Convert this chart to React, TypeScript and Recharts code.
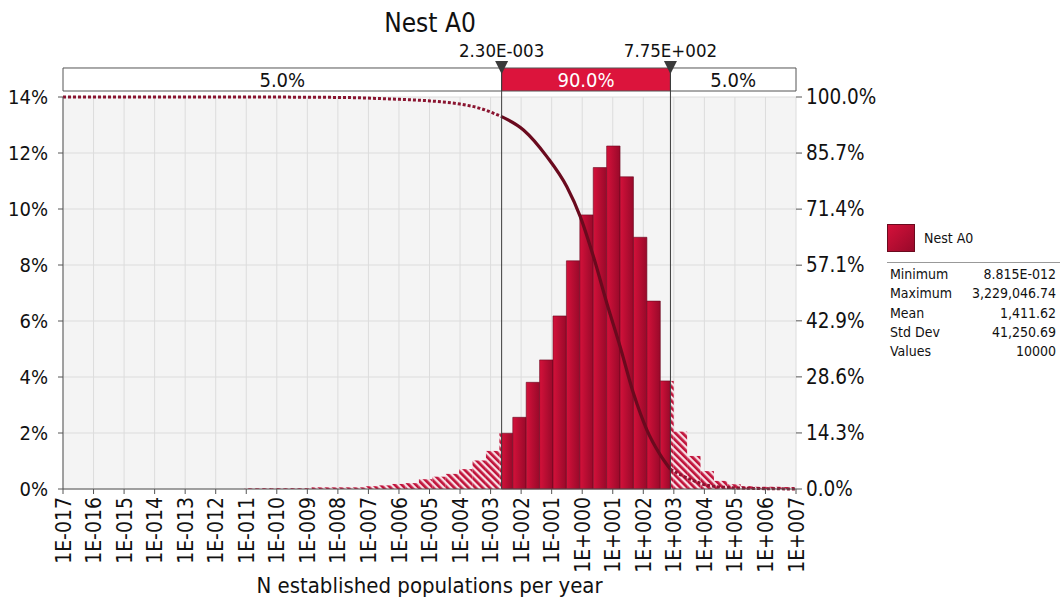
import {
  ComposedChart,
  XAxis,
  YAxis,
  CartesianGrid,
  Line,
  ReferenceArea,
  ReferenceLine,
  ReferenceDot,
} from "recharts"

// histogram bins, in log10 of the value
const binEdges = [
  -11.055, -10.616, -10.177, -9.738, -9.299, -8.86, -8.421, -7.981, -7.542, -7.103,
  -6.664, -6.225, -5.786, -5.347, -4.908, -4.469, -4.03, -3.591, -3.152, -2.713,
  -2.273, -1.834, -1.395, -0.956, -0.517, -0.078, 0.361, 0.8, 1.239, 1.678,
  2.118, 2.557, 2.996, 3.435, 3.874, 4.313, 4.752, 5.191, 5.63, 6.069,
  6.508, 6.947,
]
const binPct = [
  0.03, 0.03, 0.03, 0.03, 0.03, 0.06, 0.06, 0.06, 0.06, 0.1,
  0.13, 0.18, 0.21, 0.35, 0.44, 0.54, 0.71, 1.02, 1.36, 1.99,
  2.56, 3.81, 4.61, 6.18, 8.15, 9.79, 11.48, 12.25, 11.15, 8.99,
  6.71, 3.86, 2.05, 1.18, 0.64, 0.29, 0.17, 0.1, 0.08, 0.08,
  0.07,
]

// descending cumulative curve (percent of values above x)
const curveLog = [
  -17, -11, -9.2, -7.6, -6.6, -5.96, -4.98, -4.0, -3.34, -2.638,
  -1.923, -1.157, -0.503, -0.064, 0.368, 0.807, 1.243, 1.678, 2.116, 2.556,
  2.889, 3.533, 4.187, 5.17, 7,
]
const curvePct = [
  100, 100, 99.95, 99.85, 99.6, 99.4, 99.0, 98.2, 97.1, 95.0,
  91.6, 84.8, 77.1, 69.5, 59.3, 47.4, 36.3, 24.4, 15.1, 8.7,
  5.0, 2.5, 0.8, 0.25, 0,
]

const xTicks = [
  -17, -16, -15, -14, -13, -12, -11, -10, -9, -8, -7, -6, -5, -4, -3, -2, -1,
  0, 1, 2, 3, 4, 5, 6, 7,
]
const pctTicks = [0, 2, 4, 6, 8, 10, 12, 14]
const cumTicks = [0, 14.3, 28.6, 42.9, 57.1, 71.4, 85.7, 100]

const markerLog = [-2.638, 2.889]
const markerLabels = ["2.30E-003", "7.75E+002"]
const bandLabels = ["5.0%", "90.0%", "5.0%"]

const statNames = ["Minimum", "Maximum", "Mean", "Std Dev", "Values"]
const statValues = ["8.815E-012", "3,229,046.74", "1,411.62", "41,250.69", "10000"]

const FONT = "'DejaVu Sans Condensed', Tahoma, 'DejaVu Sans', sans-serif"
const BAND_BOTTOM = 14.214
const BAND_TOP = 15.036

const LO = markerLog[0]
const HI = markerLog[1]

const rows = curveLog.map((x, i) => ({
  x,
  base: 0,
  lo: x <= LO ? curvePct[i] : null,
  mid: x >= LO && x <= HI ? curvePct[i] : null,
  hi: x >= HI ? curvePct[i] : null,
}))

type Seg = { x1: number; x2: number; pct: number; tail: boolean }
const segments: Seg[] = []
binPct.forEach((pct, i) => {
  const a = binEdges[i]
  const b = binEdges[i + 1]
  const cuts = [a, ...markerLog.filter((m) => m > a && m < b), b]
  for (let j = 0; j < cuts.length - 1; j++) {
    const c = (cuts[j] + cuts[j + 1]) / 2
    segments.push({ x1: cuts[j], x2: cuts[j + 1], pct, tail: c < LO || c > HI })
  }
})

const fmtExp = (v: number) =>
  v < 0 ? `1E-${String(-v).padStart(3, "0")}` : `1E+${String(v).padStart(3, "0")}`

const XTick = ({ x, y, payload }: any) => (
  <text
    x={x}
    y={y}
    transform={`rotate(-90 ${x} ${y})`}
    textAnchor="end"
    dy="0.36em"
    fontSize={21}
    fill="#111"
  >
    {fmtExp(payload.value)}
  </text>
)

const Marker = (label: string) => (props: any) => {
  const { cx, cy } = props
  return (
    <g>
      <path
        d={`M${cx - 6.5},${cy - 7} L${cx + 6.5},${cy - 7} L${cx},${cy + 6} Z`}
        fill="#3a3a3a"
      />
      <text x={cx} y={cy - 11} textAnchor="middle" fontSize={18.5} fill="#111">
        {label}
      </text>
    </g>
  )
}

export default function App() {
  const bandX = [-17, LO, HI, 7]
  return (
    <div style={{ position: "relative", width: 1061, height: 603, fontFamily: FONT, background: "#fff" }}>
      <style>{"body{margin:0}"}</style>

      <div
        style={{
          position: "absolute",
          top: 3,
          left: 0,
          width: 860,
          textAlign: "center",
          fontSize: 26,
          lineHeight: "40px",
          color: "#111",
        }}
      >
        Nest A0
      </div>

      <ComposedChart
        width={1061}
        height={603}
        data={rows}
        margin={{ top: 97, right: 185, bottom: 34, left: 8 }}
      >
        <defs>
          <linearGradient id="barFill" x1="0" y1="0" x2="1" y2="0">
            <stop offset="0%" stopColor="#d4113a" />
            <stop offset="100%" stopColor="#98092a" />
          </linearGradient>
          <pattern
            id="hatch"
            width="5"
            height="5"
            patternUnits="userSpaceOnUse"
            patternTransform="rotate(-45)"
          >
            <rect width="5" height="5" fill="#f8dfe5" />
            <rect width="2.7" height="5" fill="#c0123a" />
          </pattern>
        </defs>

        <CartesianGrid
          yAxisId="pct"
          stroke="#dcdcdc"
          fill="#f4f4f4"
          fillOpacity={1}
        />

        <XAxis
          dataKey="x"
          type="number"
          domain={[-17, 7]}
          ticks={xTicks}
          interval={0}
          allowDataOverflow
          height={80}
          tickSize={5}
          tickMargin={3}
          axisLine={{ stroke: "#555" }}
          tickLine={{ stroke: "#555" }}
          tick={<XTick />}
          label={{
            value: "N established populations per year",
            position: "bottom",
            offset: 8,
            fontSize: 22,
            fill: "#111",
          }}
        />
        <YAxis
          yAxisId="pct"
          domain={[0, 14]}
          ticks={pctTicks}
          allowDataOverflow
          width={55}
          tickSize={5}
          tickMargin={10}
          tickFormatter={(v: number) => `${v}%`}
          axisLine={{ stroke: "#555" }}
          tickLine={{ stroke: "#555" }}
          tick={{ fontSize: 20, fill: "#111" }}
        />
        <YAxis
          yAxisId="cum"
          orientation="right"
          domain={[0, 100]}
          ticks={cumTicks}
          width={80}
          tickSize={6}
          tickMargin={4}
          tickFormatter={(v: number) => `${v.toFixed(1)}%`}
          axisLine={false}
          tickLine={{ stroke: "#555" }}
          tick={{ fontSize: 20.5, fill: "#111" }}
        />

        {/* keeps the percent axis tied to the data */}
        <Line
          yAxisId="pct"
          dataKey="base"
          stroke="none"
          dot={false}
          activeDot={false}
          isAnimationActive={false}
        />

        {segments.map((s, i) => (
          <ReferenceArea
            key={`seg${i}`}
            yAxisId="pct"
            x1={s.x1}
            x2={s.x2}
            y1={0}
            y2={s.pct}
            fill={s.tail ? "url(#hatch)" : "url(#barFill)"}
            fillOpacity={1}
            stroke={s.tail ? "none" : "#6a0820"}
            strokeWidth={0.6}
          />
        ))}

        {bandLabels.map((lab, i) => (
          <ReferenceArea
            key={`band${i}`}
            yAxisId="pct"
            x1={bandX[i]}
            x2={bandX[i + 1]}
            y1={BAND_BOTTOM}
            y2={BAND_TOP}
            ifOverflow="visible"
            fill={i === 1 ? "#dc143c" : "#ffffff"}
            fillOpacity={1}
            stroke="#555"
            strokeWidth={1}
            label={{
              value: lab,
              position: "center",
              fontSize: 20,
              fill: i === 1 ? "#fff" : "#111",
            }}
          />
        ))}

        <Line
          yAxisId="cum"
          dataKey="lo"
          type="monotone"
          stroke="#8a1430"
          strokeWidth={3}
          strokeDasharray="3 2"
          dot={false}
          activeDot={false}
          isAnimationActive={false}
        />
        <Line
          yAxisId="cum"
          dataKey="mid"
          type="monotone"
          stroke="#6a0a1e"
          strokeWidth={3.2}
          dot={false}
          activeDot={false}
          isAnimationActive={false}
        />
        <Line
          yAxisId="cum"
          dataKey="hi"
          type="monotone"
          stroke="#8a1430"
          strokeWidth={3}
          strokeDasharray="3 2"
          dot={false}
          activeDot={false}
          isAnimationActive={false}
        />

        {markerLog.map((m, i) => (
          <ReferenceLine
            key={`ml${i}`}
            yAxisId="pct"
            ifOverflow="visible"
            segment={[
              { x: m, y: 0 },
              { x: m, y: BAND_TOP },
            ]}
            stroke="#3c3c3c"
            strokeWidth={1}
          />
        ))}
        {markerLog.map((m, i) => (
          <ReferenceDot
            key={`md${i}`}
            yAxisId="pct"
            x={m}
            y={BAND_TOP}
            r={0}
            ifOverflow="visible"
            shape={Marker(markerLabels[i])}
          />
        ))}
      </ComposedChart>

      <div style={{ position: "absolute", left: 887, top: 224, width: 173, color: "#111" }}>
        <div style={{ display: "flex", alignItems: "center", height: 28 }}>
          <div
            style={{
              width: 28,
              height: 28,
              boxSizing: "border-box",
              border: "1px solid #6a0a1e",
              background: "linear-gradient(135deg, #d4113a, #98092a)",
            }}
          />
          <span style={{ marginLeft: 9, fontSize: 14 }}>Nest A0</span>
        </div>
        <div style={{ borderTop: "1px solid #999", marginTop: 10, paddingTop: 2 }}>
          {statNames.map((n, i) => (
            <div
              key={n}
              style={{
                display: "flex",
                justifyContent: "space-between",
                fontSize: 14,
                lineHeight: "19.3px",
                padding: "0 4px 0 3px",
              }}
            >
              <span>{n}</span>
              <span>{statValues[i]}</span>
            </div>
          ))}
        </div>
      </div>
    </div>
  )
}
